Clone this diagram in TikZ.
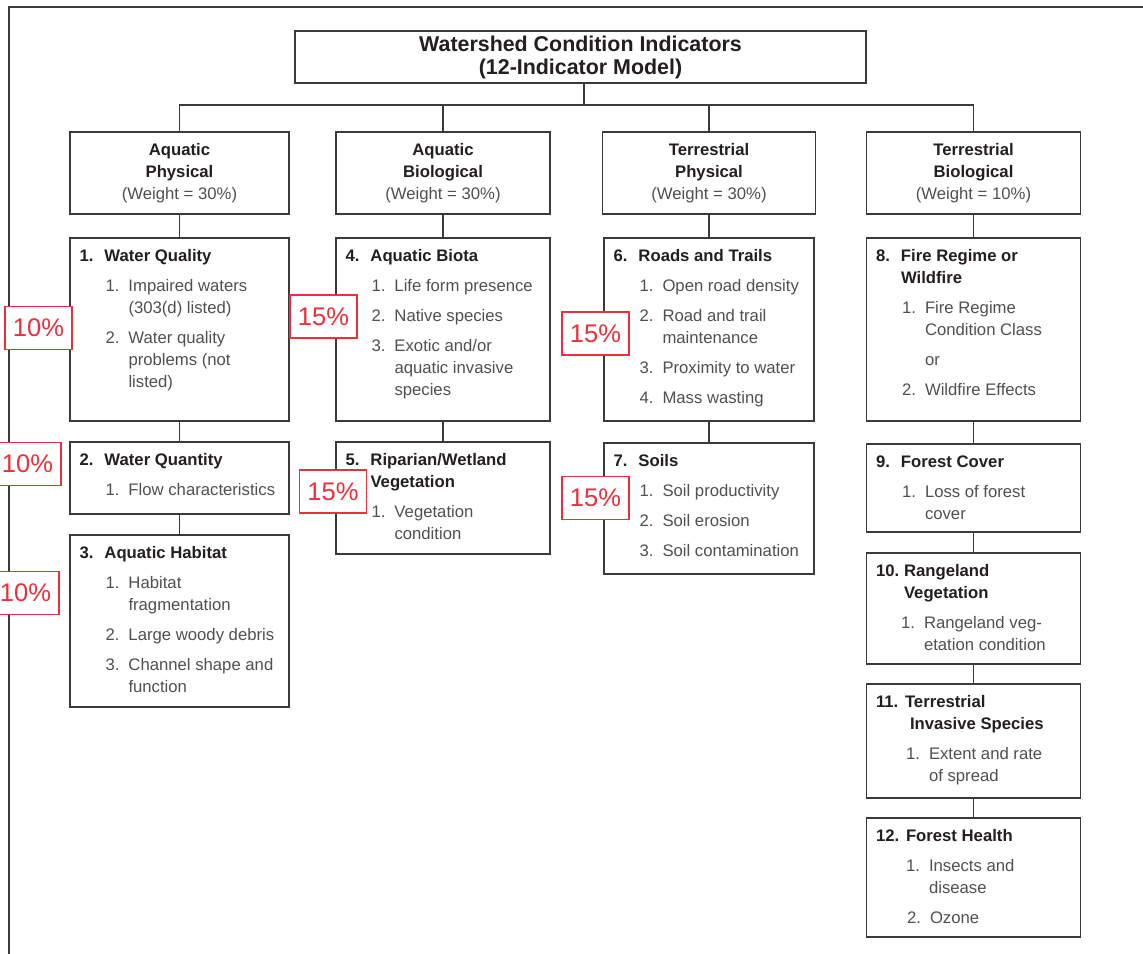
\documentclass[tikz,border=0pt]{standalone}
\usepackage{fontspec}
\setmainfont{Liberation Sans}
\usepackage[HTML]{xcolor}
\usepackage{tikz}
\usetikzlibrary{positioning}

\definecolor{boxline}{HTML}{3A3A3A}
\definecolor{headblk}{HTML}{231F20}
\definecolor{bodygray}{HTML}{505050}
\definecolor{pctred}{HTML}{E8313D}

\newcommand{\bodyfont}{\fontsize{16.7}{22}\selectfont}
\newcommand{\titlefont}{\fontsize{21.4}{23}\selectfont\bfseries}
\newcommand{\pctfont}{\fontsize{25.5}{26}\selectfont}

% bold column head line
\newcommand{\hb}[1]{\textcolor{headblk}{\bfseries #1}}
% text block of an indicator box: width, height, content
\newcommand{\boxtext}[3]{\parbox[t][#2pt][t]{#1pt}{\leftskip=9.5pt\rightskip=0pt plus 1fil\relax\parindent=0pt\vspace*{12pt}#3}}
% numbered heading of an indicator box
\newcommand{\bhead}[3][25]{\par\noindent\hangindent=#1pt\hangafter=1%
  {\bfseries\color{headblk}\makebox[#1pt][l]{#2}#3}\par}
% numbered measure inside an indicator box
\newcommand{\bitem}[3][26]{\par\vspace{8pt}\noindent%
  \hangindent=\dimexpr#1pt+23pt\relax\hangafter=1%
  \hspace*{#1pt}\makebox[23pt][l]{#2}#3\par}

\tikzset{
  frameline/.style={draw=boxline, line width=1.5pt},
  link/.style={draw=boxline, line width=1.6pt},
  titlebox/.style={draw=boxline, line width=1.6pt, fill=white, align=center,
    minimum width=571pt, minimum height=52pt, font=\titlefont, text=headblk},
  colhead/.style={draw=boxline, line width=1.6pt, fill=white, align=center,
    minimum height=82pt, font=\bodyfont, text=bodygray},
  detail/.style={draw=boxline, line width=1.6pt, fill=white, inner sep=0pt,
    anchor=north, font=\bodyfont, text=bodygray},
  pct/.style={draw=pctred, line width=1.3pt, fill=white, inner sep=0pt,
    minimum width=67pt, minimum height=43pt, font=\pctfont, text=pctred}
}

\begin{document}
\begin{tikzpicture}[x=1pt,y=-1pt]
\useasboundingbox (0,0) rectangle (1143,953);

% frame
\draw[frameline] (9,965) -- (9,7) -- (1155,7);

% title and column heads
\node[titlebox] (title) at (580.5,57) {Watershed Condition Indicators\\(12-Indicator Model)};
\node[colhead, minimum width=219pt] (hAP) at (179.5,173) {\hb{Aquatic}\\\hb{Physical}\\(Weight = 30\%)};
\node[colhead, minimum width=214pt] (hAB) at (443,173) {\hb{Aquatic}\\\hb{Biological}\\(Weight = 30\%)};
\node[colhead, minimum width=213pt] (hTP) at (709,173) {\hb{Terrestrial}\\\hb{Physical}\\(Weight = 30\%)};
\node[colhead, minimum width=214pt] (hTB) at (973.5,173) {\hb{Terrestrial}\\\hb{Biological}\\(Weight = 10\%)};

% aquatic physical indicators
\node[detail] (wqual) at (179.5,237) {\boxtext{219}{183}{%
  \bhead{1.}{Water Quality}
  \bitem{1.}{Impaired waters\\(303(d) listed)}
  \bitem{2.}{Water quality\\problems (not\\listed)}}};
\node[detail] (wquan) at (179.5,441) {\boxtext{219}{72}{%
  \bhead{2.}{Water Quantity}
  \bitem{1.}{Flow characteristics}}};
\node[detail] (ahab) at (179.5,534) {\boxtext{219}{172}{%
  \bhead{3.}{Aquatic Habitat}
  \bitem{1.}{Habitat\\fragmentation}
  \bitem{2.}{Large woody debris}
  \bitem{3.}{Channel shape and\\function}}};

% aquatic biological indicators
\node[detail] (abio) at (443,237) {\boxtext{214}{183}{%
  \bhead{4.}{Aquatic Biota}
  \bitem{1.}{Life form presence}
  \bitem{2.}{Native species}
  \bitem{3.}{Exotic and/or\\aquatic invasive\\species}}};
\node[detail] (ripw) at (443,441) {\boxtext{214}{112}{%
  \bhead{5.}{Riparian/Wetland\\Vegetation}
  \bitem{1.}{Vegetation\\condition}}};

% terrestrial physical indicators
\node[detail] (roads) at (709,237) {\boxtext{210}{183}{%
  \bhead{6.}{Roads and Trails}
  \bitem{1.}{Open road density}
  \bitem{2.}{Road and trail\\maintenance}
  \bitem{3.}{Proximity to water}
  \bitem{4.}{Mass wasting}}};
\node[detail] (soils) at (709,442) {\boxtext{210}{131}{%
  \bhead{7.}{Soils}
  \bitem{1.}{Soil productivity}
  \bitem{2.}{Soil erosion}
  \bitem{3.}{Soil contamination}}};

% terrestrial biological indicators
\node[detail] (fire) at (973.5,237) {\boxtext{214}{183}{%
  \bhead{8.}{Fire Regime or\\Wildfire}
  \bitem{1.}{Fire Regime\\Condition Class}
  \bitem{}{or}
  \bitem{2.}{Wildfire Effects}}};
\node[detail] (fcov) at (973.5,443) {\boxtext{214}{88}{%
  \bhead{9.}{Forest Cover}
  \bitem{1.}{Loss of forest\\cover}}};
\node[detail] (rveg) at (973.5,552) {\boxtext{214}{111}{%
  \bhead[28]{10.}{Rangeland\\Vegetation}
  \bitem[25]{1.}{Rangeland veg-\\etation condition}}};
\node[detail] (tinv) at (973.5,683) {\boxtext{214}{114}{%
  \bhead[29]{11.}{Terrestrial\\\hspace*{5pt}Invasive Species}
  \bitem[30]{1.}{Extent and rate\\of spread}}};
\node[detail] (fhlth) at (973.5,817) {\boxtext{214}{119}{%
  \bhead[30]{12.}{Forest Health}
  \bitem[30]{1.}{Insects and\\disease}
  \bitem[31]{2.}{Ozone}}};

% tree links
\coordinate (bus) at (584,105);
\draw[link] (title.south -| bus) -- (bus);
\draw[link] (hAP.north) -- (hAP.north |- bus) -- (hTB.north |- bus) -- (hTB.north);
\draw[link] (hAB.north) -- (hAB.north |- bus);
\draw[link] (hTP.north) -- (hTP.north |- bus);

\draw[link] (hAP) -- (wqual);
\draw[link] (wqual) -- (wquan);
\draw[link] (wquan) -- (ahab);
\draw[link] (hAB) -- (abio);
\draw[link] (abio) -- (ripw);
\draw[link] (hTP) -- (roads);
\draw[link] (roads) -- (soils);
\draw[link] (hTB) -- (fire);
\draw[link] (fire) -- (fcov);
\draw[link] (fcov) -- (rveg);
\draw[link] (rveg) -- (tinv);
\draw[link] (tinv) -- (fhlth);

% weights
\node[pct] (pWQ) at (38.5,328) {10\%};
\node[pct] (pWN) at (27.5,464) {10\%};
\node[pct] (pAH) at (25.5,593) {10\%};
\node[pct] (pAB) at (323.5,316.5) {15\%};
\node[pct] (pRW) at (333,491.5) {15\%};
\node[pct] (pRT) at (595.5,333.5) {15\%};
\node[pct] (pSO) at (595.5,498) {15\%};
\end{tikzpicture}
\end{document}
